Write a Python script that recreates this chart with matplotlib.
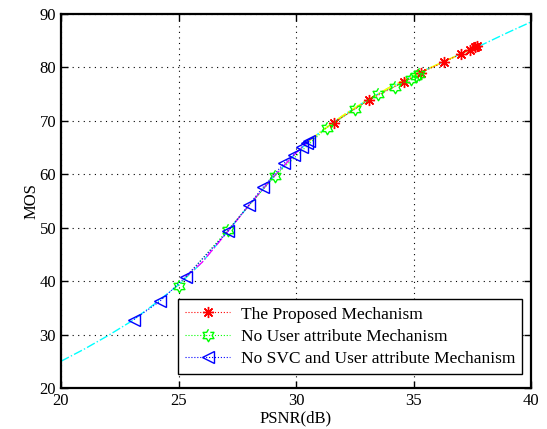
import matplotlib
matplotlib.use('Agg')
import matplotlib.pyplot as plt
import numpy as np

plt.rcParams['font.family'] = ['Liberation Serif', 'DejaVu Serif']

# mapping curve PSNR -> MOS
curva_psnr = [20, 21, 22, 23, 24, 25, 26, 27, 28, 29, 30, 31, 32, 33, 34, 35, 36, 37, 38, 39, 40]
curva_mos = [25.0, 27.3, 29.8, 32.5, 35.8, 39.3, 43.5, 48.8, 54.2, 59.3, 64.0, 67.8, 71.0, 73.8,
             76.3, 78.5, 80.5, 82.5, 84.4, 86.5, 88.5]

# The Proposed Mechanism
prop_psnr = [31.6, 33.1, 34.6, 35.3, 36.3, 37.0, 37.4, 37.6, 37.7]
prop_mos = [69.6, 73.9, 77.3, 79.0, 81.0, 82.5, 83.2, 83.8, 84.0]

# No User attribute Mechanism
nua_psnr = [25.0, 27.1, 29.1, 31.3, 32.5, 33.5, 34.2, 34.9, 35.1, 35.25]
nua_mos = [39.1, 49.6, 59.7, 68.7, 72.2, 75.0, 76.4, 77.9, 78.3, 78.8]

# No SVC and User attribute Mechanism
nsvc_psnr = [23.1, 24.2, 25.3, 27.1, 28.0, 28.6, 29.5, 29.9, 30.25, 30.45, 30.55]
nsvc_mos = [32.8, 36.2, 40.8, 49.3, 54.3, 57.6, 62.1, 63.6, 65.1, 65.8, 66.2]

# trechos coloridos da curva
mag_psnr = [25.3, 26, 27, 28, 29, 30, 30.55]
mag_mos = [40.8, 43.5, 48.8, 54.2, 59.3, 64.0, 66.2]
ama_psnr = [30.55, 31, 32, 33, 34, 35, 36, 37, 37.7]
ama_mos = [66.2, 67.8, 71.0, 73.8, 76.3, 78.5, 80.5, 82.5, 84.0]

# hexagrama (marcador do MATLAB)
ang = np.pi / 2 + np.arange(12) * np.pi / 6
raio = np.where(np.arange(12) % 2 == 0, 1.0, 1 / np.sqrt(3))
hexagrama = list(zip(raio * np.cos(ang), raio * np.sin(ang)))

fig = plt.figure(figsize=(5.47, 4.29), dpi=100)
ax = fig.add_axes([0.1115, 0.0956, 0.8595, 0.872])

ax.plot(curva_psnr, curva_mos, color='cyan', linestyle='-.', linewidth=1, zorder=2)
ax.plot(mag_psnr, mag_mos, color='magenta', linestyle='-.', linewidth=1, zorder=2)
ax.plot(ama_psnr, ama_mos, color='yellow', linestyle='-.', linewidth=1.2, zorder=2)

ax.plot(prop_psnr, prop_mos, color='red', linestyle=':', linewidth=0.8, marker=(8, 2, 0),
        markersize=8, markeredgewidth=1, label='The Proposed Mechanism', zorder=3)
ax.plot(nua_psnr, nua_mos, color='#00ff00', linestyle=':', linewidth=0.8, marker=hexagrama,
        markersize=9, markerfacecolor='none', markeredgewidth=1,
        label='No User attribute Mechanism', zorder=3)
ax.plot(nsvc_psnr, nsvc_mos, color='blue', linestyle=':', linewidth=0.8, marker='<',
        markersize=9, markerfacecolor='none', markeredgewidth=1,
        label='No SVC and User attribute Mechanism', zorder=3)

ax.set_xlim(20, 40)
ax.set_ylim(20, 90)
ax.set_xticks([20, 25, 30, 35, 40])
ax.set_yticks([20, 30, 40, 50, 60, 70, 80, 90])
ax.grid(True, color='black', linestyle=(0, (1, 4)), linewidth=0.8)
ax.tick_params(direction='in', top=True, right=True, labelsize=12, length=5, width=1)
for s in ax.spines.values():
    s.set_linewidth(1.6)

ax.set_xlabel('PSNR(dB)', fontsize=12, labelpad=1)
ax.set_ylabel('MOS', fontsize=12, labelpad=0)

leg = ax.legend(loc='lower right', bbox_to_anchor=(0.981, 0.0375), borderaxespad=0,
                fontsize=12.5, fancybox=False, framealpha=1,
                edgecolor='black', handlelength=2.6, labelspacing=0.35,
                handletextpad=0.6, borderpad=0.4)
leg.get_frame().set_linewidth(1)

fig.savefig('out.png', dpi=100)
